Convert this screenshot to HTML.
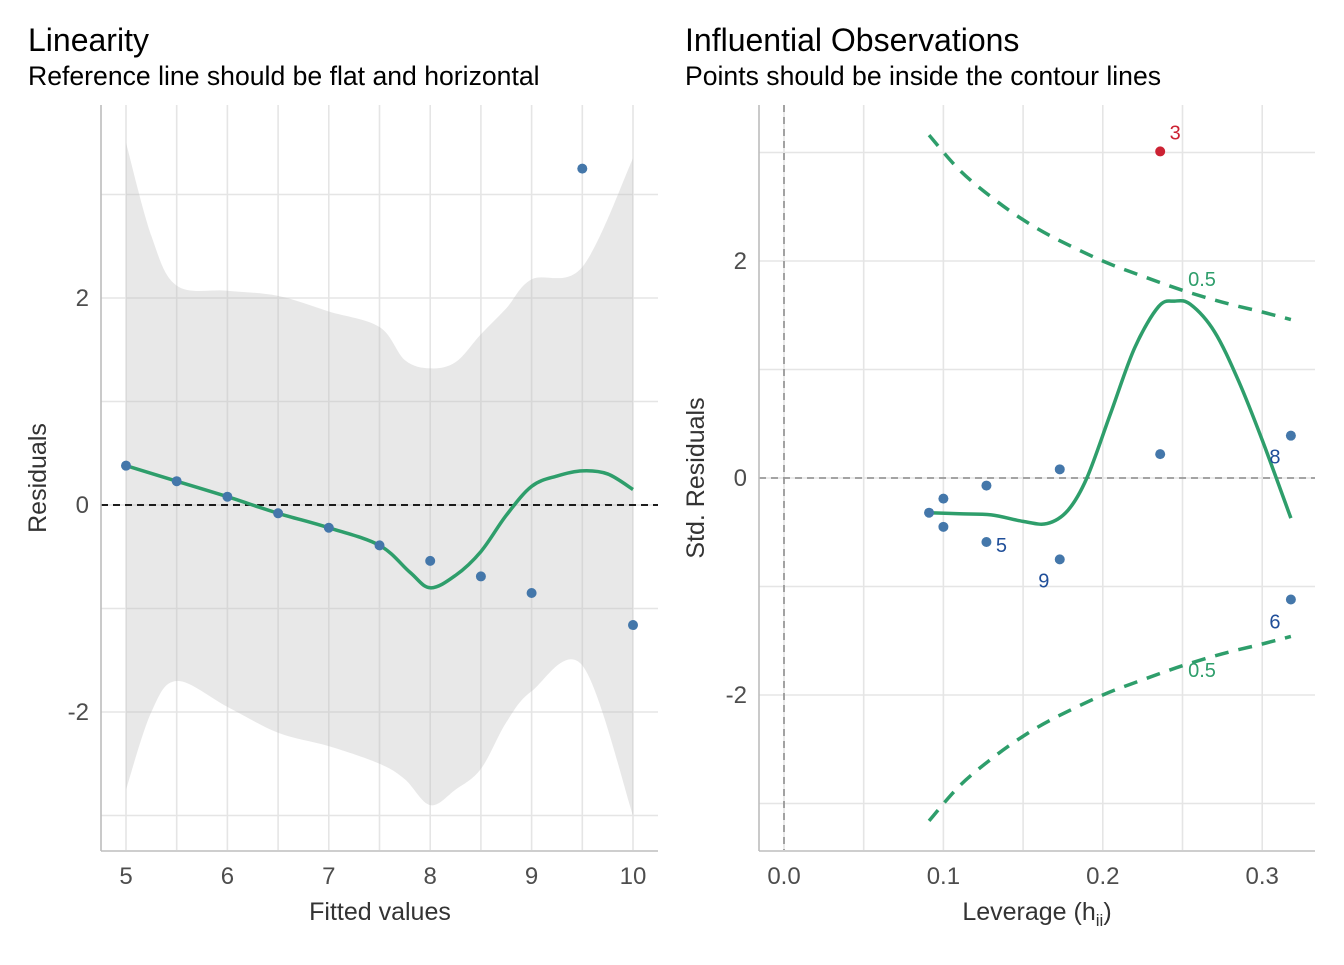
<!DOCTYPE html>
<html><head><meta charset="utf-8"><style>
body{margin:0;background:#fff;}
svg text{font-family:"Liberation Sans",Arial,sans-serif;}
</style></head><body>
<svg id="s" width="1344" height="960" xmlns="http://www.w3.org/2000/svg">
<text x="28" y="51" font-size="32" fill="#000">Linearity</text>
<text x="28" y="85" font-size="26.6" fill="#000">Reference line should be flat and horizontal</text>
<text x="685" y="51" font-size="32" fill="#000">Influential Observations</text>
<text x="685" y="85" font-size="26.6" fill="#000">Points should be inside the contour lines</text>
<g id="L"></g>
<g id="R"></g>
</svg>
<script>
// Left panel data
const fitted=[5,5.5,6,6.5,7,7.5,8,8.5,9,9.5,10];
const resid=[0.38,0.23,0.08,-0.08,-0.22,-0.39,-0.54,-0.69,-0.85,3.25,-1.16];
const loessX=[5,5.5,6,6.5,7,7.5,7.8,8,8.25,8.5,8.75,9,9.25,9.5,9.75,10];
const loessY=[0.38,0.23,0.08,-0.08,-0.22,-0.39,-0.65,-0.8,-0.68,-0.45,-0.1,0.18,0.28,0.33,0.3,0.15];
const bandX=[5,5.25,5.5,6,6.5,7,7.5,7.75,8,8.25,8.5,8.75,9,9.5,10];
const bandUp=[3.5,2.6,2.12,2.07,2.02,1.87,1.72,1.4,1.32,1.38,1.65,1.9,2.18,2.3,3.35];
const bandLo=[-2.75,-2.0,-1.7,-1.95,-2.2,-2.33,-2.5,-2.65,-2.9,-2.75,-2.55,-2.1,-1.8,-1.55,-3.0];
const leftXTicks=[5,6,7,8,9,10];
const leftYTicks=[-2,0,2];
// Right panel data
const lev=[0.091,0.1,0.1,0.127,0.127,0.173,0.173,0.236,0.236,0.318,0.318];
const stdRes=[-0.32,-0.19,-0.45,-0.07,-0.59,0.08,-0.75,0.22,3.01,0.39,-1.12];
const ptLabels=["","","","","5","","9","","3","8","6"];
const cookX=[0.091,0.11,0.13,0.15,0.17,0.2,0.225,0.25,0.275,0.3,0.318];
const cookY=[3.16,2.84,2.59,2.38,2.21,2.0,1.86,1.73,1.62,1.53,1.46];
const rLoessX=[0.091,0.11,0.13,0.15,0.165,0.178,0.19,0.205,0.22,0.235,0.245,0.255,0.27,0.285,0.3,0.318];
const rLoessY=[-0.32,-0.33,-0.34,-0.4,-0.42,-0.3,0.0,0.6,1.2,1.58,1.63,1.6,1.35,0.9,0.35,-0.37];
const rightXTicks=[0,0.1,0.2,0.3];
const rightYTicks=[-2,0,2];

const NS="http://www.w3.org/2000/svg";
function mk(p,t,a){const e=document.createElementNS(NS,t);for(const k in a)e.setAttribute(k,a[k]);p.appendChild(e);return e;}
function smooth(pts){let d="M"+pts[0][0]+","+pts[0][1];for(let i=0;i<pts.length-1;i++){const p0=pts[Math.max(i-1,0)],p1=pts[i],p2=pts[i+1],p3=pts[Math.min(i+2,pts.length-1)];
d+=" C"+(p1[0]+(p2[0]-p0[0])/6)+","+(p1[1]+(p2[1]-p0[1])/6)+" "+(p2[0]-(p3[0]-p1[0])/6)+","+(p2[1]-(p3[1]-p1[1])/6)+" "+p2[0]+","+p2[1];}return d;}
const green="#2e9e6b",blue="#4477aa";

// LEFT
const L=document.getElementById('L');
const lx=v=>126+(v-5)*101.4, ly=v=>505-v*103.5;
[5,5.5,6,6.5,7,7.5,8,8.5,9,9.5,10].forEach(v=>{const g=mk(L,'line',{x1:lx(v),x2:lx(v),y1:105,y2:850,stroke:'#e5e5e5','stroke-width':1.6});
});
[-3,-2,-1,0,1,2,3].forEach(v=>{const g=mk(L,'line',{x1:101,x2:658,y1:ly(v),y2:ly(v),stroke:'#e5e5e5','stroke-width':1.6});
});
const up=bandX.map((x,i)=>[lx(x),ly(bandUp[i])]), lo=bandX.map((x,i)=>[lx(x),ly(bandLo[i])]).reverse();
let bd=smooth(up)+" L"+lo[0][0]+","+lo[0][1]+smooth(lo).slice(smooth(lo).indexOf(" C"))+"Z";
const band=mk(L,'path',{d:bd,fill:'#bdbdbd','fill-opacity':0.35});

const zl=mk(L,'line',{x1:101,x2:658,y1:ly(0),y2:ly(0),stroke:'#000','stroke-width':1.8,'stroke-dasharray':'7,5'});

const ll=mk(L,'path',{d:smooth(loessX.map((x,i)=>[lx(x),ly(loessY[i])])),fill:'none',stroke:green,'stroke-width':3.5});

fitted.forEach((x,i)=>{const c=mk(L,'circle',{cx:lx(x),cy:ly(resid[i]),r:5,fill:blue});
});
mk(L,'line',{x1:101,x2:101,y1:105,y2:851,stroke:'#bdbdbd','stroke-width':1.6,});
mk(L,'line',{x1:101,x2:658,y1:851,y2:851,stroke:'#bdbdbd','stroke-width':1.6,});
leftXTicks.forEach(v=>{const t=mk(L,'text',{x:lx(v),y:884,'font-size':24,fill:'#4d4d4d','text-anchor':'middle'});t.textContent=v;
});
leftYTicks.forEach(v=>{const t=mk(L,'text',{x:89,y:ly(v)+8,'font-size':24,fill:'#4d4d4d','text-anchor':'end'});t.textContent=v;
});
let t=mk(L,'text',{x:380,y:920,'font-size':25,fill:'#333','text-anchor':'middle',});t.textContent='Fitted values';
t=mk(L,'text',{x:46,y:478,'font-size':25,fill:'#333','text-anchor':'middle',transform:'rotate(-90 46 478)',});t.textContent='Residuals';

// RIGHT
const R=document.getElementById('R');
const rx=v=>784+v*1594, ry=v=>478-v*108.5;
for(let k=0;k<=6;k++){const v=k*0.05;const g=mk(R,'line',{x1:rx(v),x2:rx(v),y1:105,y2:850,stroke:'#e5e5e5','stroke-width':1.6});
}
[-3,-2,-1,0,1,2,3].forEach(v=>{const g=mk(R,'line',{x1:759,x2:1315,y1:ry(v),y2:ry(v),stroke:'#e5e5e5','stroke-width':1.6});
});
mk(R,'line',{x1:759,x2:1315,y1:ry(0),y2:ry(0),stroke:'#999','stroke-width':1.8,'stroke-dasharray':'7,5',});
mk(R,'line',{x1:rx(0),x2:rx(0),y1:105,y2:850,stroke:'#999','stroke-width':1.8,'stroke-dasharray':'7,5',});
[1,-1].forEach(s=>{const c=mk(R,'path',{d:smooth(cookX.map((x,i)=>[rx(x),ry(s*cookY[i])])),fill:'none',stroke:green,'stroke-width':3.5,'stroke-dasharray':'14,10'});
});
t=mk(R,'text',{x:1202,y:286,'font-size':20,fill:green,'text-anchor':'middle',});t.textContent='0.5';
t=mk(R,'text',{x:1202,y:677,'font-size':20,fill:green,'text-anchor':'middle',});t.textContent='0.5';
const rl=mk(R,'path',{d:smooth(rLoessX.map((x,i)=>[rx(x),ry(rLoessY[i])])),fill:'none',stroke:green,'stroke-width':3.5});

const offs={"5":[15,10],"9":[-16,28],"3":[15,-12],"8":[-16,28],"6":[-16,29]};
lev.forEach((x,i)=>{const red=ptLabels[i]==="3";const c=mk(R,'circle',{cx:rx(x),cy:ry(stdRes[i]),r:5,fill:red?'#cc2233':blue});

if(ptLabels[i]){const o=offs[ptLabels[i]];const tt=mk(R,'text',{x:rx(x)+o[0],y:ry(stdRes[i])+o[1],'font-size':20,fill:red?'#cc2233':'#1f4e99','text-anchor':'middle'});tt.textContent=ptLabels[i];
}});
mk(R,'line',{x1:759,x2:759,y1:105,y2:851,stroke:'#bdbdbd','stroke-width':1.6,});
mk(R,'line',{x1:759,x2:1315,y1:851,y2:851,stroke:'#bdbdbd','stroke-width':1.6,});
rightXTicks.forEach(v=>{const tt=mk(R,'text',{x:rx(v),y:884,'font-size':24,fill:'#4d4d4d','text-anchor':'middle'});tt.textContent=v.toFixed(1);
});
rightYTicks.forEach(v=>{const tt=mk(R,'text',{x:747,y:ry(v)+8,'font-size':24,fill:'#4d4d4d','text-anchor':'end'});tt.textContent=v;
});
t=mk(R,'text',{x:1037,y:920,'font-size':25,fill:'#333','text-anchor':'middle',});
t.innerHTML='Leverage (h<tspan font-size="17" dy="6">ii</tspan><tspan dy="-6">)</tspan>';
t=mk(R,'text',{x:704,y:478,'font-size':25,fill:'#333','text-anchor':'middle',transform:'rotate(-90 704 478)',});t.textContent='Std. Residuals';
</script>
</body></html>
